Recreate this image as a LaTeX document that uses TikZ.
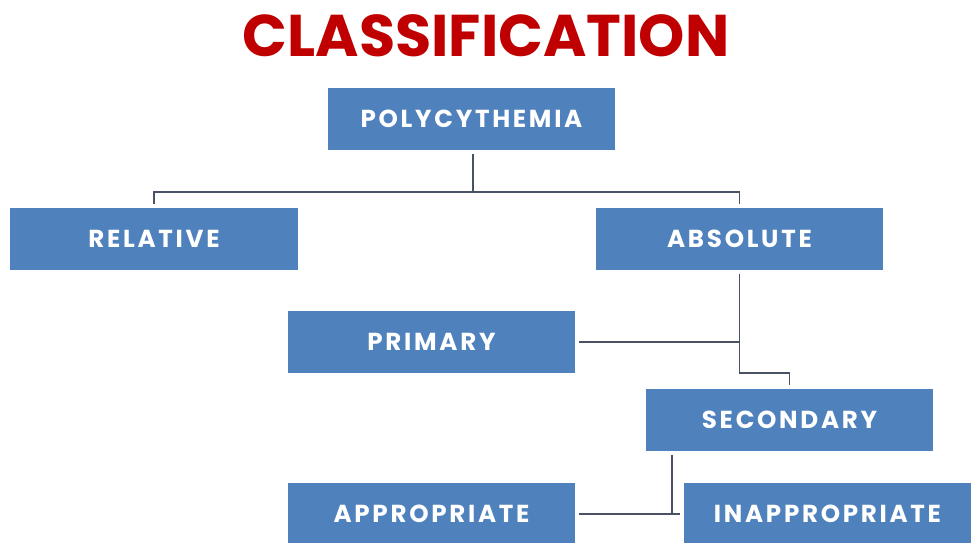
\documentclass[tikz,border=0pt]{standalone}
\usepackage{fontspec}
\setsansfont{Poppins}
\newfontfamily\boxfont{Poppins}[LetterSpace=11]
\usepackage{tikz}
\usepackage{xcolor}

\begin{document}
\begin{tikzpicture}[x=0.02cm,y=-0.02cm,
  box/.style={fill=boxblue,minimum width=5.76cm,minimum height=1.24cm,inner sep=0pt,outer sep=2pt,text=white,font=\boxfont\bfseries\fontsize{14}{14}\selectfont},
  link/.style={draw=linegray,line width=1.1pt}]
% Define colours
\definecolor{boxblue}{RGB}{79,129,189}
\definecolor{linegray}{RGB}{72,82,100}
\definecolor{titlered}{RGB}{192,0,0}

\useasboundingbox (0,0) rectangle (972,543);

% Title
\node[text=titlered,font=\sffamily\bfseries\fontsize{33.5}{33.5}\selectfont] (title) at (486,36) {CLASSIFICATION};

% Draw boxes
\node[box] (poly) at (471.5,119) {POLYCYTHEMIA};
\node[box] (rel) at (154,239) {RELATIVE};
\node[box] (abs) at (739.5,239) {ABSOLUTE};
\node[box] (prim) at (431.5,342) {PRIMARY};
\node[box] (sec) at (789.5,420) {SECONDARY};
\node[box] (app) at (431.5,514) {APPROPRIATE};
\node[box] (inapp) at (827.5,514) {INAPPROPRIATE};

% Draw connections
\coordinate (split) at (473,192);
\coordinate (bend) at (739.5,373);
\coordinate (join) at (672,514);
\draw[link] (poly.south -| split) -- (split) -| (rel.north);
\draw[link] (split) -| (abs.north);
\draw[link] (abs.south) -- (bend) -| (sec.north);
\draw[link] (prim.east) -- (prim.east -| bend);
\draw[link] (sec.south -| join) -- (join);
\draw[link] (app.east) -- (inapp.west);
\end{tikzpicture}
\end{document}
